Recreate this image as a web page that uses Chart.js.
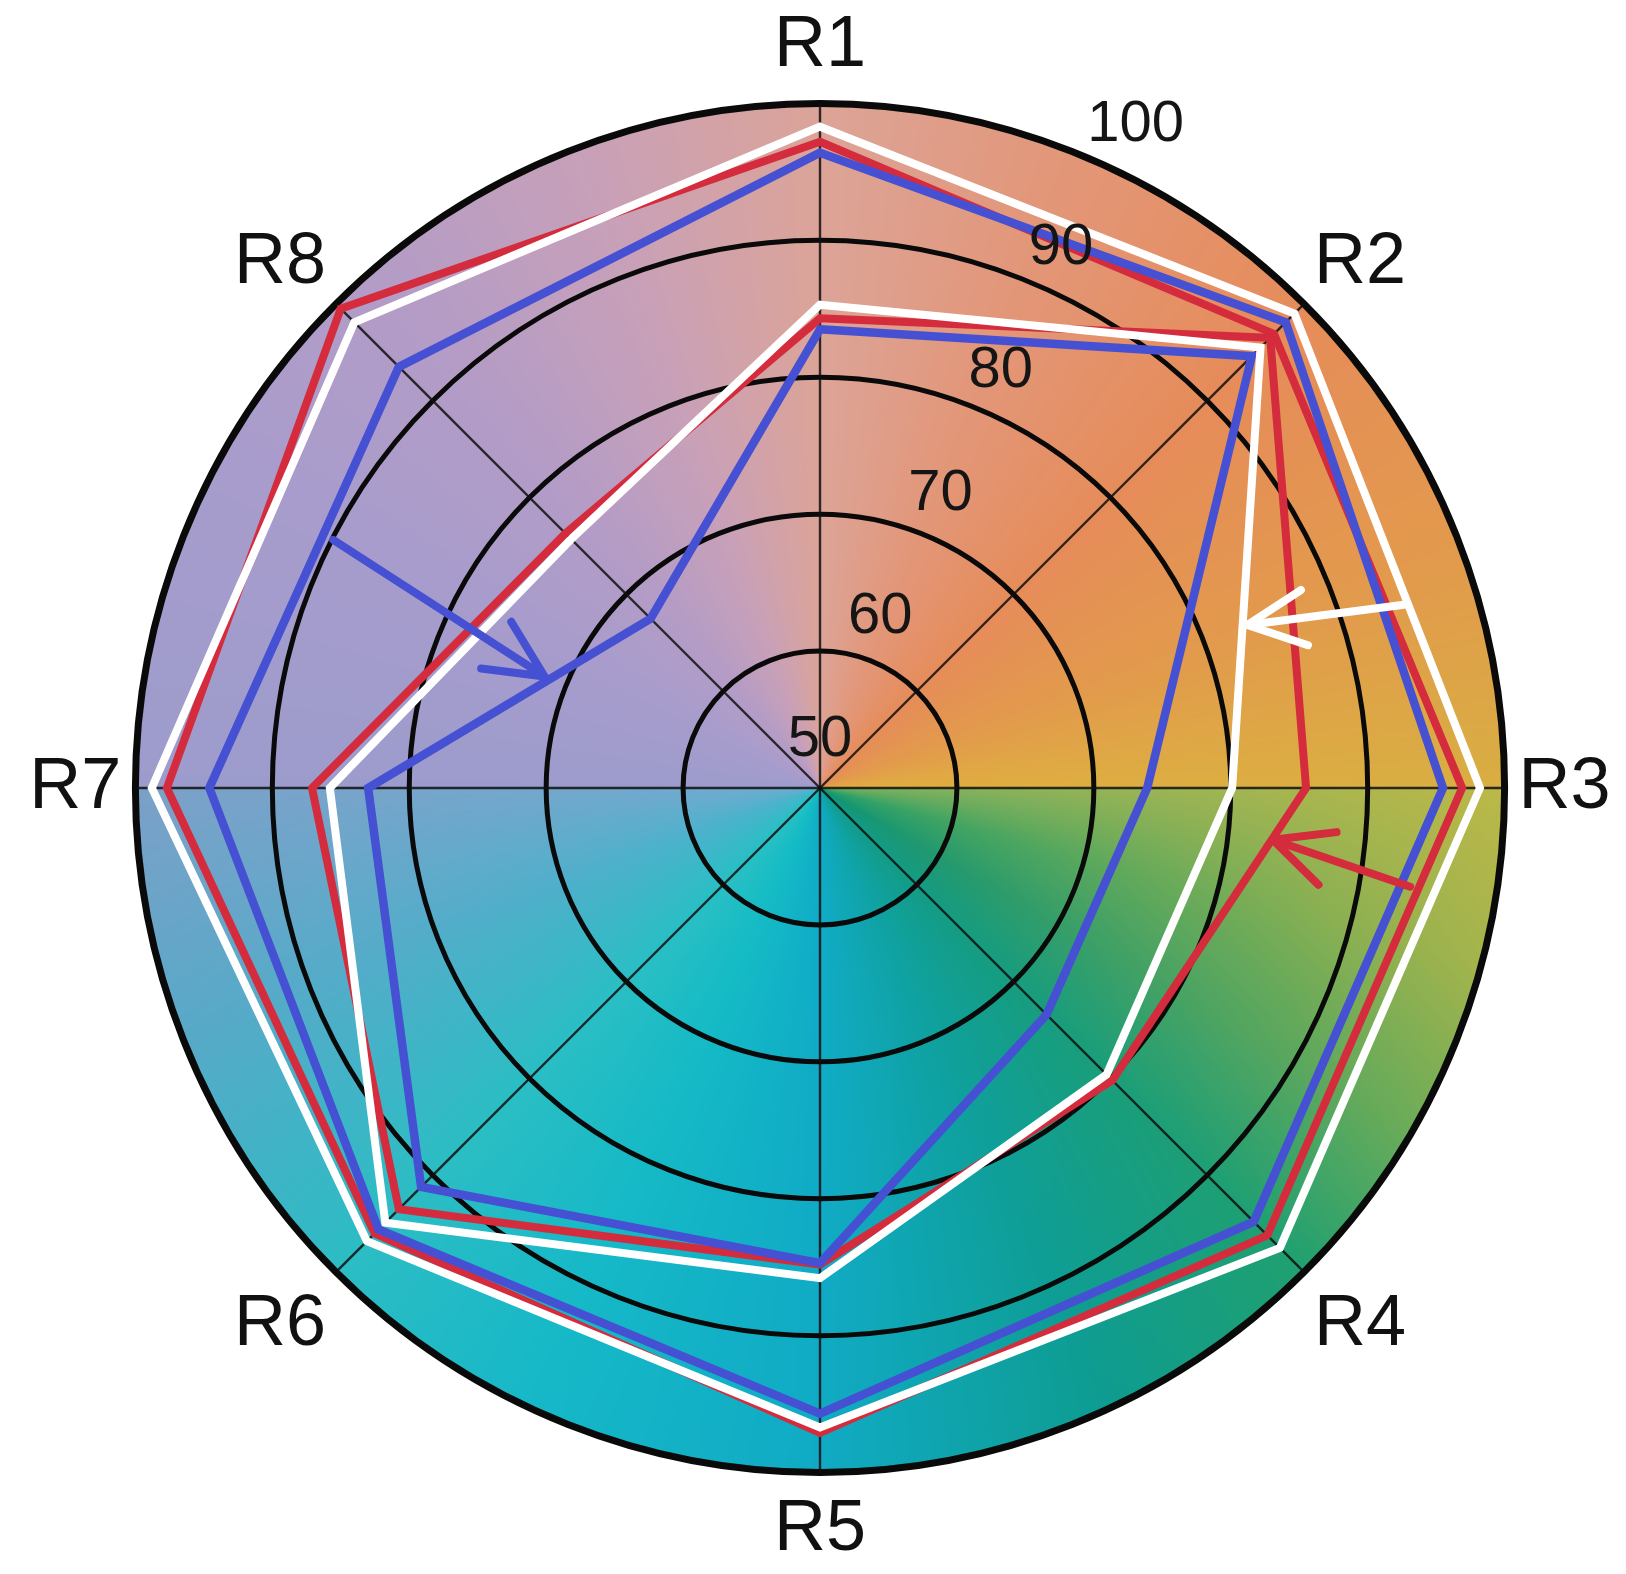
<!DOCTYPE html>
<html>
<head>
<meta charset="utf-8">
<script src="https://cdn.jsdelivr.net/npm/chart.js@4.4.1/dist/chart.umd.min.js"></script>
<style>
  html, body { margin: 0; padding: 0; background: #fff; }
  #wrap { width: 1626px; height: 1574px; position: relative; }
</style>
</head>
<body>
<div id="wrap"><canvas id="chart"></canvas></div>
<script>
// Radar with six polygons over a coloured disc, R1..R8 clockwise from the top.

const labels = ['R1', 'R2', 'R3', 'R4', 'R5', 'R6', 'R7', 'R8'];

const whiteOuter = [98.3, 99.0, 98.2, 97.5, 96.7, 96.8, 98.8, 98.1];
const redOuter   = [97.2, 96.9, 96.9, 96.2, 97.1, 96.0, 97.7, 99.5];
const blueOuter  = [96.4, 98.1, 95.5, 94.8, 95.7, 95.6, 94.6, 93.5];

const whiteInner = [85.3, 95.5, 80.1, 79.6, 85.8, 94.9, 85.8, 75.7];
const redInner   = [84.3, 96.5, 85.5, 80.2, 84.8, 93.5, 87.1, 76.3];
const blueInner  = [83.5, 94.6, 73.9, 73.4, 84.7, 91.2, 83.0, 67.5];

const rMin = 50, rMax = 100, rStep = 10;

// annotation arrows: [angle index, value] from tail to tip
const arrowTails = [[6.60, 89.9], [1.613, 94.7], [2.211, 93.7]];
const arrowTips  = [[6.49, 71.7], [1.536, 83.4], [2.145, 83.3]];

const RED = '#d42c3c';
const BLUE = '#4650d2';
const WHITE = '#ffffff';
const arrowColors = [BLUE, WHITE, RED];

// disc colours, degrees clockwise from the top; inner = near centre, outer = rim
const BG_ANGLES = [0, 20, 45, 70, 89.99, 90, 105, 120, 135, 155, 180, 205, 225, 250, 269.99, 270, 300, 320, 340, 360];
const BG_OUTER = ['#dca498', '#e2977a', '#e68c5a', '#e29a4c', '#d8ae42', '#bcb848', '#a4b44c', '#6cac58', '#20a070',
  '#0e9c90', '#10aac4', '#16b8c8', '#2cbcc4', '#5aa8c8', '#7ca0c8', '#9c9ccc', '#a89ccc', '#b49cc6', '#c8a0b8', '#dca498'];
const BG_INNER = ['#dca498', '#e2977a', '#e68c5a', '#e29a4c', '#e2ae40', '#7cb060', '#28a068', '#109474', '#109a88',
  '#10a4a8', '#10acc8', '#14bcc4', '#28c0c4', '#48b4cc', '#70acd0', '#9c9ccc', '#a89ccc', '#b49cc6', '#c8a0b8', '#dca498'];

function hexToRgb(h) {
  return [parseInt(h.slice(1, 3), 16), parseInt(h.slice(3, 5), 16), parseInt(h.slice(5, 7), 16)];
}

let discCache = null;
function buildDisc(R) {
  const size = Math.ceil(R * 2) + 4;
  const off = document.createElement('canvas');
  off.width = off.height = size;
  const octx = off.getContext('2d');
  const img = octx.createImageData(size, size);
  const inn = BG_INNER.map(hexToRgb), out = BG_OUTER.map(hexToRgb);
  const c = size / 2;
  for (let y = 0; y < size; y++) {
    for (let x = 0; x < size; x++) {
      const dx = x + 0.5 - c, dy = y + 0.5 - c;
      const r = Math.hypot(dx, dy);
      if (r > R + 2) continue;
      let a = Math.atan2(dx, -dy) * 180 / Math.PI;
      if (a < 0) a += 360;
      let i = 0;
      while (i < BG_ANGLES.length - 2 && BG_ANGLES[i + 1] <= a) i++;
      const f = Math.min(1, Math.max(0, (a - BG_ANGLES[i]) / (BG_ANGLES[i + 1] - BG_ANGLES[i])));
      const t = Math.min(1, r / R);
      const k = (y * size + x) * 4;
      for (let ch = 0; ch < 3; ch++) {
        const vi = inn[i][ch] + (inn[i + 1][ch] - inn[i][ch]) * f;
        const vo = out[i][ch] + (out[i + 1][ch] - out[i][ch]) * f;
        img.data[k + ch] = vi + (vo - vi) * t;
      }
      img.data[k + 3] = 255;
    }
  }
  octx.putImageData(img, 0, 0);
  return off;
}

const discPlugin = {
  id: 'disc',
  beforeDraw(chart) {
    const s = chart.scales.r;
    const R = s.drawingArea;
    if (!discCache || discCache.R !== R) discCache = { R, canvas: buildDisc(R) };
    const ctx = chart.ctx;
    const c = discCache.canvas.width / 2;
    ctx.save();
    ctx.beginPath();
    ctx.arc(s.xCenter, s.yCenter, R, 0, Math.PI * 2);
    ctx.clip();
    ctx.drawImage(discCache.canvas, s.xCenter - c, s.yCenter - c);
    ctx.restore();
  }
};

function polar(s, idx, value) {
  return s.getPointPosition(idx, s.getDistanceFromCenterForValue(value));
}

const overlayPlugin = {
  id: 'overlay',
  afterDatasetsDraw(chart) {
    const s = chart.scales.r;
    const ctx = chart.ctx;
    ctx.save();
    // arrows
    ctx.lineWidth = 8;
    ctx.lineCap = 'round';
    ctx.lineJoin = 'round';
    arrowTails.forEach((tail, i) => {
      const p0 = polar(s, tail[0], tail[1]);
      const p1 = polar(s, arrowTips[i][0], arrowTips[i][1]);
      const ang = Math.atan2(p1.y - p0.y, p1.x - p0.x);
      const len = 64, spread = 0.45;
      ctx.strokeStyle = arrowColors[i];
      ctx.beginPath();
      ctx.moveTo(p0.x, p0.y);
      ctx.lineTo(p1.x, p1.y);
      ctx.moveTo(p1.x - len * Math.cos(ang - spread), p1.y - len * Math.sin(ang - spread));
      ctx.lineTo(p1.x, p1.y);
      ctx.lineTo(p1.x - len * Math.cos(ang + spread), p1.y - len * Math.sin(ang + spread));
      ctx.stroke();
    });
    // radial tick labels, off to the upper right of the R1 spoke
    ctx.font = '58px "Liberation Sans", Arial, sans-serif';
    ctx.fillStyle = '#151515';
    ctx.textAlign = 'center';
    ctx.textBaseline = 'middle';
    s.ticks.forEach(t => {
      const p = polar(s, t.value === rMax ? 0.61 : 0.58, t.value);
      ctx.fillText(String(t.value), p.x, p.y - (t.value === rMax ? 55 : 48));
    });
    ctx.restore();
  }
};

function ds(data, color, width) {
  return {
    data,
    borderColor: color,
    borderWidth: width,
    fill: false,
    pointRadius: 0,
    pointHoverRadius: 0,
    tension: 0,
    borderJoinStyle: 'miter'
  };
}

new Chart(document.getElementById('chart').getContext('2d'), {
  type: 'radar',
  data: {
    labels,
    // first dataset is drawn on top
    datasets: [
      ds(whiteOuter, WHITE, 8),
      ds(whiteInner, WHITE, 8),
      ds(blueOuter, BLUE, 8.5),
      ds(blueInner, BLUE, 8.5),
      ds(redOuter, RED, 8),
      ds(redInner, RED, 8)
    ]
  },
  options: {
    responsive: true,
    maintainAspectRatio: false,
    animation: false,
    layout: { padding: { left: 14, top: 4, bottom: 0, right: 0 } },
    plugins: { legend: { display: false }, tooltip: { enabled: false } },
    scales: {
      r: {
        min: rMin,
        max: rMax,
        ticks: { stepSize: rStep, display: false },
        grid: {
          circular: true,
          color: '#0a0a0a',
          lineWidth: (c) => (c.tick && c.tick.value === rMax ? 7 : 5)
        },
        angleLines: { color: 'rgba(15,15,15,0.85)', lineWidth: 2.4 },
        pointLabels: {
          color: '#111',
          padding: 14,
          font: (c) => ({
            family: '"Liberation Sans", Arial, sans-serif',
            size: 72,
            lineHeight: (c.index === 1 || c.index === 7) ? 0.85 : 1.2
          })
        }
      }
    }
  },
  plugins: [discPlugin, overlayPlugin]
});
</script>
</body>
</html>
